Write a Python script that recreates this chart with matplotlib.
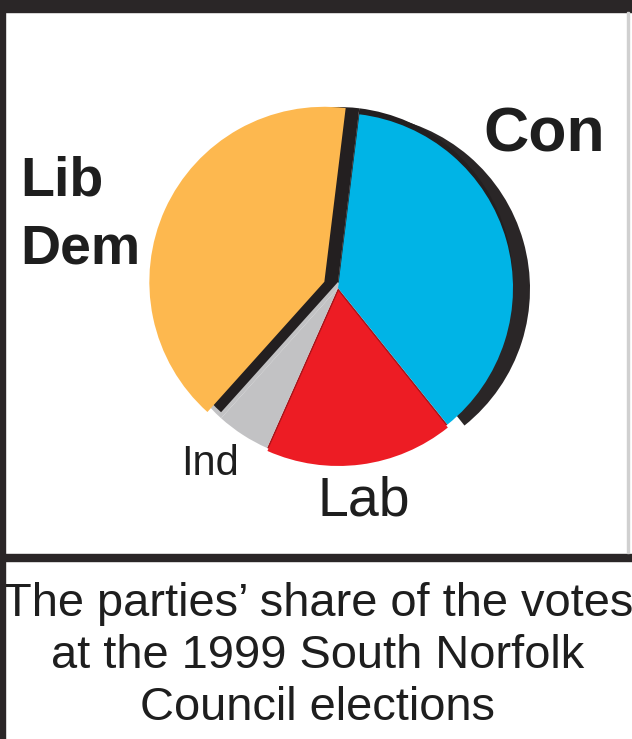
import matplotlib.pyplot as plt
from matplotlib.patches import Rectangle

# share of the votes (order: anticlockwise from the top)
parties = ['Lib Dem', 'Ind', 'Lab', 'Con']
shares = [40.3, 5.0, 17.4, 37.3]
colours = ['#FDB84F', '#C2C2C4', '#ED1C24', '#00B4E6']
side_colours = ['#231F20', 'none', 'none', '#231F20']
back_colours = ['#C2C2C4', 'none', '#A8151B', 'none']

caption = "The parties\u2019 share of the votes\nat the 1999 South Norfolk\nCouncil elections"

W, H = 632, 739
fig = plt.figure(figsize=(W / 100, H / 100), dpi=100)
ax = fig.add_axes([0, 0, 1, 1])

# axes are in pixels, so explode is in pixels too
cx, cy, r = 338, H - 288, 175
explode = [15, 0, 3, 0]
dark = '#2A2627'

# 3D-ish sides: Con pushed right, then the pie behind the slices
ax.pie(shares, colors=['none', 'none', 'none', dark], startangle=83,
       center=(cx + 17, cy - 1), radius=r, wedgeprops=dict(linewidth=0))
ax.pie(shares, colors=back_colours, startangle=83,
       center=(cx, cy), radius=r, wedgeprops=dict(linewidth=0))
ax.pie(shares, colors=side_colours, startangle=83,
       center=(cx, cy + 6), radius=r, wedgeprops=dict(linewidth=0))
ax.pie(shares, colors=colours, startangle=83, explode=explode,
       center=(cx, cy), radius=r, wedgeprops=dict(linewidth=0))

# frame
ax.add_patch(Rectangle((0, H - 12), W, 12, color=dark, zorder=5))
ax.add_patch(Rectangle((0, 0), 5, H, color=dark, zorder=5))
ax.add_patch(Rectangle((0, H - 561), W, 7, color=dark, zorder=5))
ax.add_patch(Rectangle((627, H - 553), 2, 541, color='#D0D0D0', zorder=5))

font = 'Liberation Sans'
ax.text(544, H - 152, 'Con', fontsize=45, fontweight='bold', family=font,
        ha='center', va='baseline', color='#1E1E1E')
ax.text(20, H - 263, 'Lib\nDem', fontsize=40, fontweight='bold', family=font,
        ha='left', va='baseline', linespacing=1.40, color='#1E1E1E')
ax.text(210, H - 475, 'Ind', fontsize=30, family=font,
        ha='center', va='baseline', color='#1E1E1E')
ax.text(364, H - 516, 'Lab', fontsize=40, family=font,
        ha='center', va='baseline', color='#1E1E1E')
ax.text(318, H - 720, caption, fontsize=33.8, family=font,
        ha='center', va='baseline', linespacing=1.233, color='#1E1E1E')

ax.set_xlim(0, W)
ax.set_ylim(0, H)
ax.axis('off')

fig.savefig('out.png', dpi=100)
